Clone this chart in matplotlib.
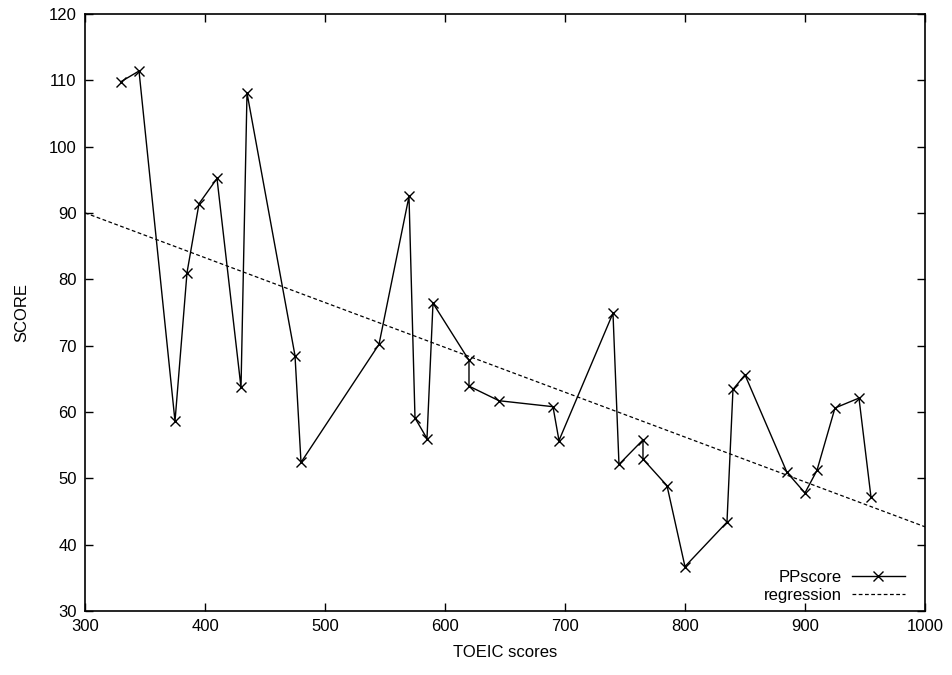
"""TOEIC scores vs PPscore, with a linear regression line (gnuplot look)."""

import matplotlib

matplotlib.use("Agg")
import matplotlib.pyplot as plt
import numpy as np

plt.rcParams["font.family"] = ["Liberation Sans", "DejaVu Sans"]

# PPscore points, in the order they are joined
TOEIC = [330, 345, 375, 385, 395, 410, 430, 435, 475, 480, 545, 570, 575, 585,
         590, 620, 620, 645, 690, 695, 740, 745, 765, 765, 785, 800, 835, 840,
         850, 885, 900, 910, 925, 945, 955]
PPSCORE = [109.8, 111.4, 58.6, 81.0, 91.4, 95.2, 63.7, 108.1, 68.5, 52.4, 70.2,
           92.5, 59.1, 56.0, 76.4, 67.8, 63.9, 61.7, 60.8, 55.7, 74.9, 52.1,
           55.8, 52.9, 48.9, 36.7, 43.4, 63.4, 65.6, 50.9, 47.8, 51.2, 60.6,
           62.1, 47.2]

# regression line y = a*x + b
REG_SLOPE = -0.0676
REG_INTERCEPT = 110.3

XTICKS = [300, 400, 500, 600, 700, 800, 900, 1000]
YTICKS = [30, 40, 50, 60, 70, 80, 90, 100, 110, 120]


def main() -> None:
    fig = plt.figure(figsize=(9.52, 6.75), dpi=100)
    ax = fig.add_axes([0.0893, 0.0948, 0.8823, 0.8845])

    ax.plot(TOEIC, PPSCORE, color="black", linewidth=1.0, marker="x",
            markersize=7, markeredgewidth=1.0, label="PPscore")
    xs = np.array([300, 1000])
    ax.plot(xs, REG_SLOPE * xs + REG_INTERCEPT, color="black", linewidth=0.9,
            linestyle=(0, (3, 2)), label="regression")

    ax.set_xlim(300, 1000)
    ax.set_ylim(30, 120)
    ax.set_xticks(XTICKS)
    ax.set_yticks(YTICKS)
    ax.tick_params(direction="in", length=6, width=1, top=True, right=True,
                   labelsize=12, pad=6)
    for spine in ax.spines.values():
        spine.set_linewidth(1.2)

    ax.set_xlabel("TOEIC scores", fontsize=12, labelpad=8)
    ax.set_ylabel("SCORE", fontsize=12, labelpad=14)

    ax.legend(loc="lower right", bbox_to_anchor=(0.986, 0.0), frameon=False,
              markerfirst=False, fontsize=12, handlelength=3.2,
              handletextpad=0.6, labelspacing=0.15, borderaxespad=0.3,
              borderpad=0.2)

    fig.savefig("out.png", dpi=100)
    plt.close(fig)


if __name__ == "__main__":
    main()
